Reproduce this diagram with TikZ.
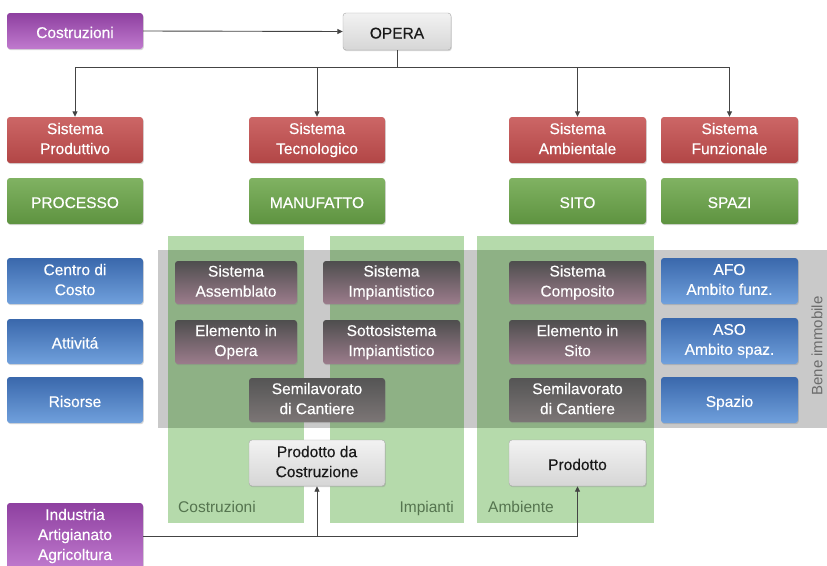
\documentclass[tikz,border=0pt]{standalone}
\usepackage{fontspec}
\setmainfont{Liberation Sans}
\newfontfamily\boxfont[FakeBold=0.35]{Liberation Sans}
\usetikzlibrary{arrows.meta,shadows}
\definecolor{purtop}{HTML}{8E40A0}
\definecolor{purbot}{HTML}{C07ACE}
\definecolor{redtop}{HTML}{CC6666}
\definecolor{redbot}{HTML}{B24646}
\definecolor{grntop}{HTML}{80B262}
\definecolor{grnbot}{HTML}{5E9340}
\definecolor{blutop}{HTML}{3A68AC}
\definecolor{blubot}{HTML}{70A0DC}
\definecolor{mautop}{HTML}{4E4E4E}
\definecolor{maubot}{HTML}{9C7C8C}
\definecolor{semtop}{HTML}{555555}
\definecolor{sembot}{HTML}{7C7676}
\definecolor{lgttop}{HTML}{F2F2F2}
\definecolor{lgtbot}{HTML}{D6D6D6}
\definecolor{bandgray}{HTML}{C9C9C9}
\definecolor{panellight}{HTML}{B5DAAB}
\definecolor{paneldark}{HTML}{8EB185}
\definecolor{panellabel}{HTML}{55744F}
\definecolor{linecol}{HTML}{444444}
\newcommand{\mystrut}{\rule[-3pt]{0pt}{20pt}}
\tikzset{
  box/.style={rounded corners=3pt, align=center, inner sep=0pt,
    font=\boxfont\fontsize{15.5}{20}\selectfont, text=white,
    execute at begin node=\mystrut, execute at end node=\mystrut,
    drop shadow={shadow xshift=0.8pt,shadow yshift=-1.2pt,opacity=0.3}},
  purbox/.style={box, top color=purtop, bottom color=purbot, minimum width=136pt},
  redbox/.style={box, top color=redtop, bottom color=redbot, minimum height=46pt},
  grnbox/.style={box, top color=grntop, bottom color=grnbot, minimum height=46pt},
  blubox/.style={box, top color=blutop, bottom color=blubot, minimum width=136pt},
  maubox/.style={box, top color=mautop, bottom color=maubot},
  sembox/.style={box, top color=semtop, bottom color=sembot},
  lgtbox/.style={box, top color=lgttop, bottom color=lgtbot, draw=gray!70, text=black!90},
  conn/.style={draw=linecol, line width=0.9pt},
  arr/.style={conn, -{Triangle[length=5.5pt,width=5pt]}},
  plabel/.style={font=\fontsize{15.5}{18}\selectfont, text=panellabel, inner sep=0pt}
}
\begin{document}
\begin{tikzpicture}[x=1pt,y=-1pt]
\useasboundingbox[fill=white] (0,0) rectangle (827,565);
% gray band and green panels
\fill[bandgray] (158,250) rectangle (830,428);
\fill[panellight] (168,236) rectangle (304,523);
\fill[panellight] (330,236) rectangle (464,523);
\fill[panellight] (477,236) rectangle (654,523);
\fill[paneldark] (168,250) rectangle (304,428);
\fill[paneldark] (330,250) rectangle (464,428);
\fill[paneldark] (477,250) rectangle (654,428);
\node[plabel, anchor=base west] (lcos) at (178,512) {Costruzioni};
\node[plabel, anchor=base east] (limp) at (454,512) {Impianti};
\node[plabel, anchor=base west] (lamb) at (488,512) {Ambiente};
\node[rotate=90, font=\fontsize{15}{16}\selectfont, text=gray!85!black, inner sep=0pt] (bene) at (817,346) {Bene immobile};
% top
\node[purbox, minimum height=36pt] (cost) at (75,31) {Costruzioni};
\node[lgtbox, minimum width=108pt, minimum height=37pt] (opera) at (397,31.5) {OPERA};
% red row
\node[redbox, minimum width=136pt] (sp) at (75,140) {Sistema\\Produttivo};
\node[redbox, minimum width=136pt] (st) at (317,140) {Sistema\\Tecnologico};
\node[redbox, minimum width=137pt] (sa) at (577.5,140) {Sistema\\Ambientale};
\node[redbox, minimum width=137pt] (sf) at (729.5,140) {Sistema\\Funzionale};
% green row
\node[grnbox, minimum width=136pt] (proc) at (75,201) {PROCESSO};
\node[grnbox, minimum width=136pt] (manu) at (317,201) {MANUFATTO};
\node[grnbox, minimum width=137pt] (sito) at (577.5,201) {SITO};
\node[grnbox, minimum width=137pt] (spazi) at (729.5,201) {SPAZI};
% blue left
\node[blubox, minimum height=46pt] (ccosto) at (75,281) {Centro di\\Costo};
\node[blubox, minimum height=45pt] (attiv) at (75,341.5) {Attivitá};
\node[blubox, minimum height=46pt] (risorse) at (75,400) {Risorse};
% blue right
\node[blubox, minimum width=137pt, minimum height=46pt] (afo) at (729.5,281) {AFO\\Ambito funz.};
\node[blubox, minimum width=137pt, minimum height=46pt] (aso) at (729.5,341) {ASO\\Ambito spaz.};
\node[blubox, minimum width=137pt, minimum height=46pt] (spazio) at (729.5,400) {Spazio};
% dark boxes
\node[maubox, minimum width=122pt, minimum height=43pt] (sass) at (236,282.5) {Sistema\\Assemblato};
\node[maubox, minimum width=137pt, minimum height=43pt] (simp) at (391.5,282.5) {Sistema\\Impiantistico};
\node[maubox, minimum width=122pt, minimum height=44pt] (eop) at (236,342) {Elemento in\\Opera};
\node[maubox, minimum width=137pt, minimum height=44pt] (ssimp) at (391.5,342) {Sottosistema\\Impiantistico};
\node[sembox, minimum width=136pt, minimum height=44pt] (semi1) at (317,400) {Semilavorato\\di Cantiere};
\node[maubox, minimum width=137pt, minimum height=43pt] (scomp) at (577.5,282.5) {Sistema\\Composito};
\node[maubox, minimum width=137pt, minimum height=44pt] (esito) at (577.5,342) {Elemento in\\Sito};
\node[sembox, minimum width=137pt, minimum height=44pt] (semi2) at (577.5,400) {Semilavorato\\di Cantiere};
% products
\node[lgtbox, minimum width=136pt, minimum height=46pt] (prod1) at (317,463) {Prodotto da\\Costruzione};
\node[lgtbox, minimum width=137pt, minimum height=46pt] (prod2) at (577.5,463) {Prodotto};
% industria
\node[purbox, minimum height=66pt] (ind) at (75,536) {Industria\\Artigianato\\Agricoltura};
% connectors
\coordinate (j) at (397,67);
\draw[arr] (cost.east) -- (opera.west);
\draw[conn] (opera.south) -- (j);
\draw[conn] (sp.north |- j) -- (sf.north |- j);
\draw[arr] (sp.north |- j) -- (sp.north);
\draw[arr] (st.north |- j) -- (st.north);
\draw[arr] (sa.north |- j) -- (sa.north);
\draw[arr] (sf.north |- j) -- (sf.north);
\draw[arr] (ind.east) -- (ind.east -| prod2.south) -- (prod2.south);
\draw[arr] (ind.east -| prod1.south) -- (prod1.south);
\end{tikzpicture}
\end{document}
